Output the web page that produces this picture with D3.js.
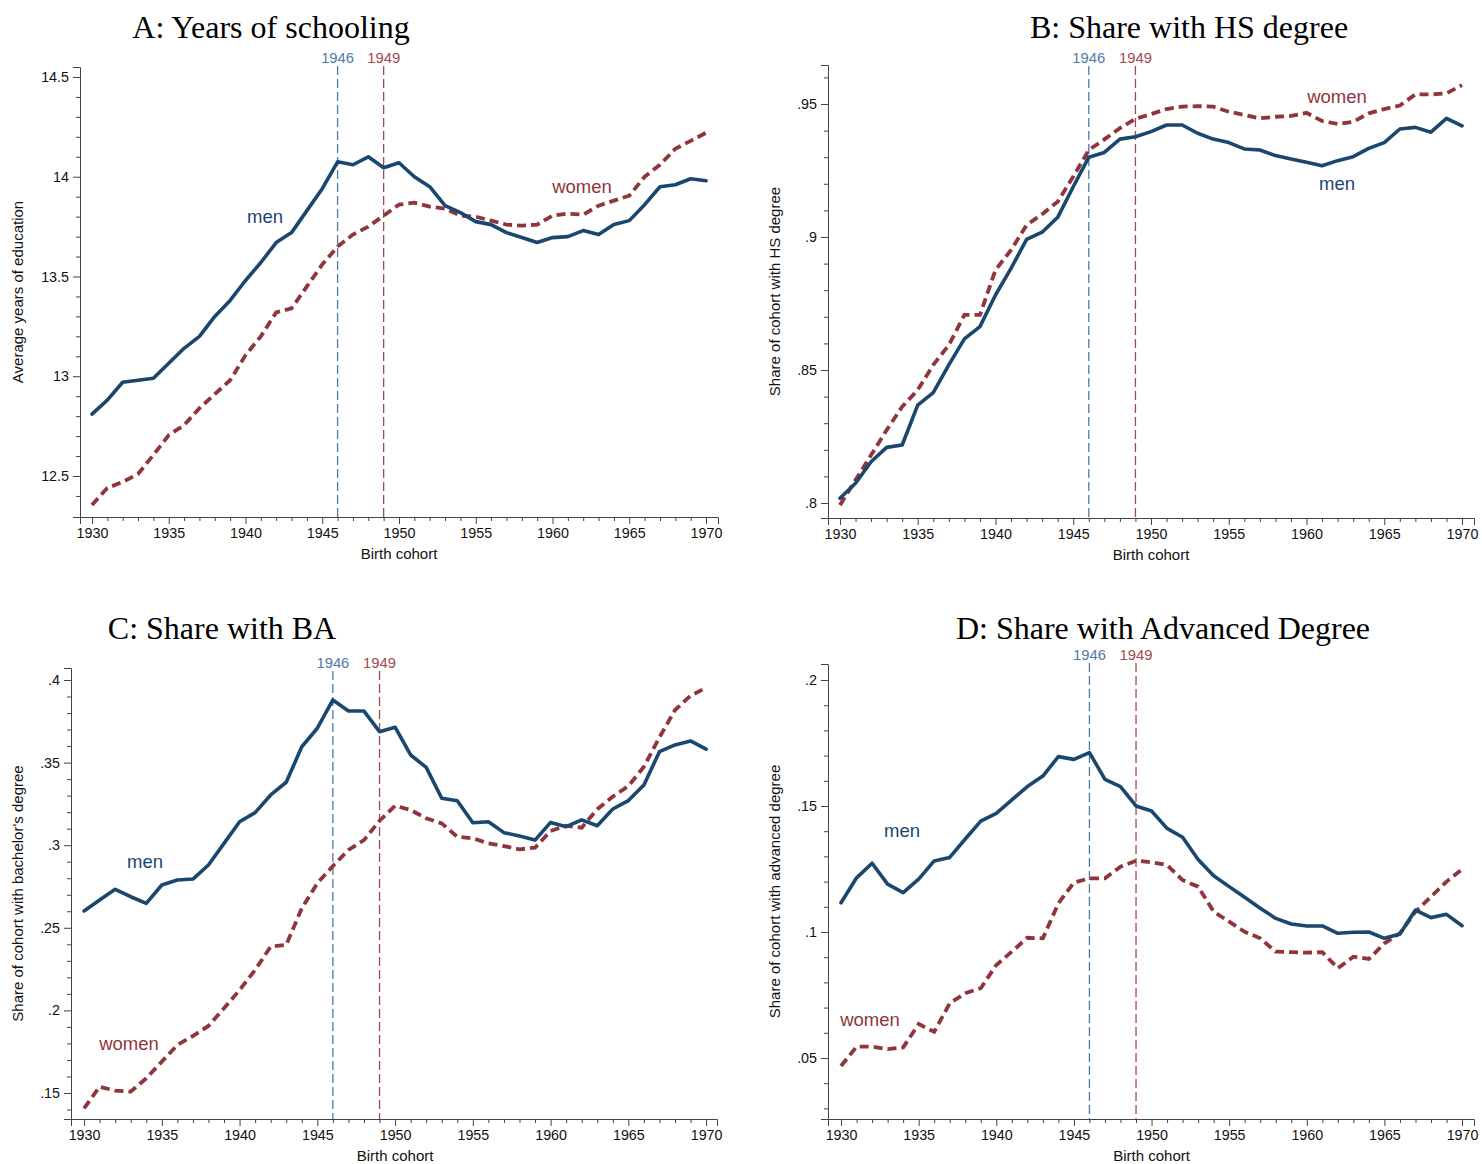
<!DOCTYPE html>
<html>
<head>
<meta charset="utf-8">
<script src="https://cdn.jsdelivr.net/npm/d3@7"></script>
<style>
  html, body { margin: 0; padding: 0; background: #fff; }
  svg { display: block; }
  .tick-label, .axis-title { font-family: "Liberation Sans", Arial, sans-serif; fill: #111; }
  .panel-title { font-family: "Liberation Serif", "Times New Roman", serif; fill: #000; }
</style>
</head>
<body>
<svg id="chart" width="1482" height="1164"></svg>
<script>
// Birth cohorts on the x axis
const years = [1930,1931,1932,1933,1934,1935,1936,1937,1938,1939,
               1940,1941,1942,1943,1944,1945,1946,1947,1948,1949,
               1950,1951,1952,1953,1954,1955,1956,1957,1958,1959,
               1960,1961,1962,1963,1964,1965,1966,1967,1968,1969,1970];

// A: average years of education
const schoolingMen = [12.81,12.88,12.97,12.98,12.99,13.065,13.14,13.20,13.30,13.38,
                      13.48,13.57,13.67,13.72,13.83,13.94,14.075,14.06,14.10,14.045,
                      14.07,14.00,13.95,13.855,13.82,13.775,13.76,13.72,13.695,13.67,
                      13.695,13.70,13.73,13.71,13.76,13.78,13.86,13.95,13.96,13.99,13.98];
const schoolingWomen = [12.355,12.44,12.47,12.51,12.605,12.705,12.755,12.84,12.91,12.98,
                        13.105,13.20,13.32,13.34,13.45,13.56,13.65,13.71,13.75,13.805,
                        13.86,13.87,13.85,13.84,13.805,13.80,13.78,13.76,13.755,13.76,
                        13.805,13.815,13.81,13.855,13.88,13.905,14.00,14.06,14.14,14.18,14.22];

// B: share with a high-school degree
const hsMen = [0.8018,0.8074,0.8155,0.8209,0.8218,0.8368,0.8415,0.8519,0.8617,0.8663,
               0.8782,0.8882,0.8991,0.9018,0.9074,0.9189,0.9300,0.9318,0.9368,0.9377,
               0.9396,0.9421,0.9421,0.9390,0.9368,0.9355,0.9331,0.9327,0.9306,0.9293,
               0.9281,0.9268,0.9287,0.9302,0.9333,0.9355,0.9406,0.9412,0.9394,0.9446,0.9418];
const hsWomen = [0.7992,0.8086,0.8180,0.8274,0.8362,0.8425,0.8519,0.8594,0.8707,0.8707,
                 0.8876,0.8951,0.9045,0.9086,0.9133,0.9227,0.9327,0.9367,0.9409,0.9444,
                 0.9462,0.9481,0.9490,0.9492,0.9490,0.9471,0.9459,0.9446,0.9452,0.9455,
                 0.9467,0.9436,0.9425,0.9433,0.9465,0.9481,0.9494,0.9536,0.9536,0.9540,0.9571];

// C: share with a bachelor's degree
const baMen = [0.2602,0.2668,0.2733,0.2688,0.2648,0.2759,0.2789,0.2795,0.2880,0.3011,
               0.3142,0.3197,0.3304,0.3381,0.3596,0.3708,0.3879,0.3812,0.3812,0.3687,
               0.3714,0.3546,0.3471,0.3284,0.3269,0.3136,0.3142,0.3076,0.3056,0.3031,
               0.3138,0.3112,0.3153,0.3118,0.3219,0.3270,0.3365,0.3566,0.3607,0.3631,0.3581];
const baWomen = [0.1407,0.1538,0.1514,0.1508,0.1589,0.1690,0.1791,0.1845,0.1906,0.2013,
                 0.2123,0.2245,0.2386,0.2396,0.2618,0.2770,0.2874,0.2971,0.3031,0.3148,
                 0.3239,0.3213,0.3163,0.3132,0.3051,0.3042,0.3011,0.2995,0.2975,0.2985,
                 0.3086,0.3118,0.3106,0.3218,0.3294,0.3358,0.3475,0.3653,0.3818,0.3905,0.3953];

// D: share with an advanced degree
const advMen = [0.1116,0.1215,0.1273,0.1190,0.1156,0.1210,0.1282,0.1296,0.1369,0.1440,
                0.1471,0.1524,0.1577,0.1619,0.1696,0.1685,0.1712,0.1606,0.1577,0.1500,
                0.1480,0.1411,0.1376,0.1288,0.1223,0.1180,0.1138,0.1094,0.1054,0.1032,
                0.1024,0.1024,0.0995,0.0999,0.1000,0.0975,0.0992,0.1087,0.1057,0.1070,0.1025];
const advWomen = [0.0468,0.0545,0.0545,0.0535,0.0542,0.0635,0.0604,0.0717,0.0757,0.0777,
                  0.0869,0.0922,0.0977,0.0975,0.1114,0.1196,0.1213,0.1213,0.1259,0.1283,
                  0.1277,0.1266,0.1206,0.1180,0.1081,0.1041,0.1001,0.0975,0.0922,0.0920,
                  0.0918,0.0920,0.0856,0.0902,0.0893,0.0955,0.0995,0.1081,0.1140,0.1200,0.1249];

// Tick values
const xTicks = [1930,1935,1940,1945,1950,1955,1960,1965,1970];
const yTicksA = [12.5,13,13.5,14,14.5];
const yTicksB = [0.8,0.85,0.9,0.95];
const yTicksC = [0.15,0.2,0.25,0.3,0.35,0.4];
const yTicksD = [0.05,0.1,0.15,0.2];

// Reference cohorts
const refYears = [1946, 1949];

const MEN = "#1a476f", WOMEN = "#90353b";
const REF_COLORS = ["#4f7aa6", "#a5484f"];

const svg = d3.select("#chart");

const stataFmt = v => {
  let s = d3.format("~g")(+v.toFixed(4));
  return s.replace(/^0\./, ".");
};

const panels = [
  { title: "A: Years of schooling", titleX: 271, titleY: 38,
    yTitle: "Average years of education", yTitleX: 23,
    men: schoolingMen, women: schoolingWomen,
    left: 80, right: 718, top: 67, bottom: 517,
    xDom: [1929.22, 1970.78], yDom: [12.2945, 14.55],
    yTicks: yTicksA, yMinor: 0.1, refY: 63,
    menLab: [265, 223], womenLab: [582, 193] },
  { title: "B: Share with HS degree", titleX: 1189, titleY: 38,
    yTitle: "Share of cohort with HS degree", yTitleX: 780,
    men: hsMen, women: hsWomen,
    left: 828, right: 1474, top: 65, bottom: 518,
    xDom: [1929.23, 1970.77], yDom: [0.79436, 0.96466],
    yTicks: yTicksB, yMinor: 0.01, refY: 63,
    menLab: [1337, 190], womenLab: [1337, 103] },
  { title: "C: Share with BA", titleX: 222, titleY: 639,
    yTitle: "Share of cohort with bachelor's degree", yTitleX: 23,
    men: baMen, women: baWomen,
    left: 71, right: 717, top: 668, bottom: 1119,
    xDom: [1929.16, 1970.70], yDom: [0.13426, 0.40726],
    yTicks: yTicksC, yMinor: 0.01, refY: 668,
    menLab: [145, 868], womenLab: [129, 1050] },
  { title: "D: Share with Advanced Degree", titleX: 1163, titleY: 639,
    yTitle: "Share of cohort with advanced degree", yTitleX: 780,
    men: advMen, women: advWomen,
    left: 828, right: 1474, top: 664, bottom: 1119,
    xDom: [1929.16, 1970.77], yDom: [0.02579, 0.20635],
    yTicks: yTicksD, yMinor: 0.01, refY: 660,
    menLab: [902, 837], womenLab: [870, 1026] }
];

panels.forEach(p => {
  const g = svg.append("g");
  const x = d3.scaleLinear().domain(p.xDom).range([p.left, p.right]);
  const y = d3.scaleLinear().domain(p.yDom).range([p.bottom, p.top]);

  // Title
  g.append("text").attr("class", "panel-title")
    .attr("x", p.titleX).attr("y", p.titleY)
    .attr("text-anchor", "middle").attr("font-size", 32)
    .text(p.title);

  // Minor ticks (kept clear of the axis corners)
  const xMinor = years.filter(v => !xTicks.includes(v));
  const yMin = Math.ceil(p.yDom[0] / p.yMinor - 1e-6), yMax = Math.floor(p.yDom[1] / p.yMinor + 1e-6);
  const yMinorVals = d3.range(yMin, yMax + 1).map(k => k * p.yMinor)
    .filter(v => !p.yTicks.some(t => Math.abs(t - v) < p.yMinor / 10))
    .filter(v => y(v) < p.bottom - 4 && y(v) > p.top + 2);

  // X axis
  const xAxis = d3.axisBottom(x).tickValues(xTicks).tickFormat(d3.format("d"))
    .tickSizeOuter(0).tickSize(7).tickPadding(4);
  const xg = g.append("g").attr("transform", `translate(0,${p.bottom})`).call(xAxis);
  xg.select(".domain").attr("stroke", "#444");
  xg.selectAll(".tick line").attr("stroke", "#444");
  xg.selectAll(".tick text").attr("class", "tick-label").attr("font-size", 14.3)
    .attr("fill", "#111").style("font-family", "'Liberation Sans', Arial, sans-serif");
  g.append("g").attr("transform", `translate(0,${p.bottom})`)
    .call(d3.axisBottom(x).tickValues(xMinor).tickFormat("").tickSize(4).tickSizeOuter(0))
    .call(s => s.select(".domain").remove())
    .selectAll("line").attr("stroke", "#444");

  // Y axis
  const yAxis = d3.axisLeft(y).tickValues(p.yTicks).tickFormat(stataFmt)
    .tickSizeOuter(0).tickSize(7).tickPadding(4);
  const yg = g.append("g").attr("transform", `translate(${p.left},0)`).call(yAxis);
  yg.select(".domain").attr("stroke", "#444");
  yg.selectAll(".tick line").attr("stroke", "#444");
  yg.selectAll(".tick text").attr("font-size", 14.3).attr("fill", "#111")
    .style("font-family", "'Liberation Sans', Arial, sans-serif");
  g.append("g").attr("transform", `translate(${p.left},0)`)
    .call(d3.axisLeft(y).tickValues(yMinorVals).tickFormat("").tickSize(4).tickSizeOuter(0))
    .call(s => s.select(".domain").remove())
    .selectAll("line").attr("stroke", "#444");

  // Axis titles
  g.append("text").attr("class", "axis-title")
    .attr("x", x(1950)).attr("y", p.bottom + 42)
    .attr("text-anchor", "middle").attr("font-size", 15)
    .text("Birth cohort");
  g.append("text").attr("class", "axis-title")
    .attr("transform", `translate(${p.yTitleX},${(p.top + p.bottom) / 2}) rotate(-90)`)
    .attr("text-anchor", "middle").attr("font-size", 15)
    .text(p.yTitle);

  // Reference cohort lines
  refYears.forEach((ry, i) => {
    g.append("line")
      .attr("x1", x(ry)).attr("x2", x(ry))
      .attr("y1", p.refY + 3).attr("y2", p.bottom)
      .attr("stroke", REF_COLORS[i]).attr("stroke-width", 1.3)
      .attr("stroke-dasharray", "9,4");
    g.append("text").attr("class", "tick-label")
      .attr("x", x(ry)).attr("y", p.refY)
      .attr("text-anchor", "middle").attr("font-size", 14.8)
      .attr("fill", REF_COLORS[i]).style("fill", REF_COLORS[i])
      .text(ry);
  });

  // Series
  const line = d3.line().x((d, i) => x(years[i])).y(d => y(d));
  g.append("path").datum(p.women)
    .attr("d", line).attr("fill", "none")
    .attr("stroke", WOMEN).attr("stroke-width", 3.8)
    .attr("stroke-dasharray", "9,5");
  g.append("path").datum(p.men)
    .attr("d", line).attr("fill", "none")
    .attr("stroke", MEN).attr("stroke-width", 3.6)
    .attr("stroke-linejoin", "round").attr("stroke-linecap", "round");

  // Series labels
  g.append("text").attr("x", p.menLab[0]).attr("y", p.menLab[1])
    .attr("text-anchor", "middle").attr("font-size", 18.5)
    .style("font-family", "'Liberation Sans', Arial, sans-serif")
    .attr("fill", MEN).text("men");
  g.append("text").attr("x", p.womenLab[0]).attr("y", p.womenLab[1])
    .attr("text-anchor", "middle").attr("font-size", 18.5)
    .style("font-family", "'Liberation Sans', Arial, sans-serif")
    .attr("fill", WOMEN).text("women");
});
</script>
</body>
</html>
